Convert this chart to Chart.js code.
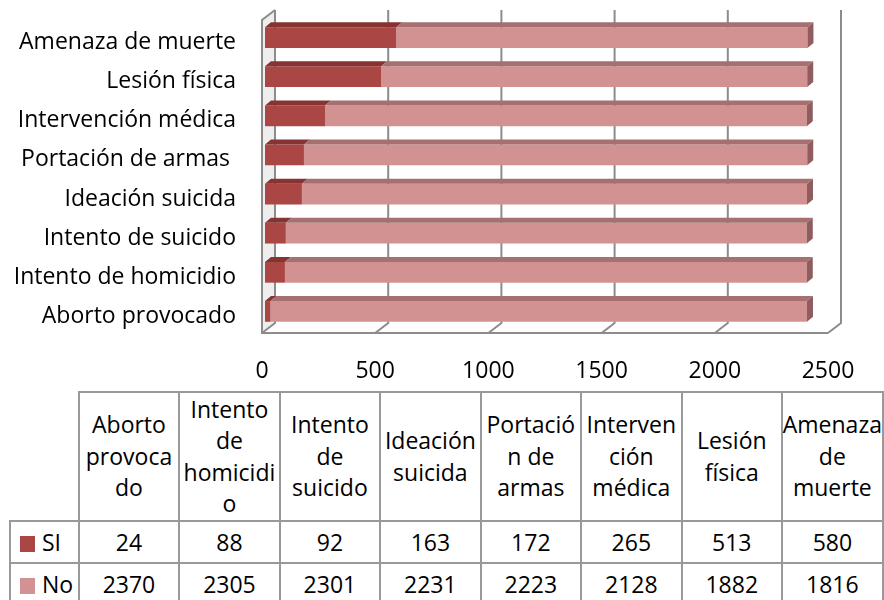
<!DOCTYPE html>
<html>
<head>
<meta charset="utf-8">
<script src="https://cdn.jsdelivr.net/npm/chart.js@4.4.1/dist/chart.umd.min.js"></script>
<style>
  body { margin: 0; background: #fff; font-family: 'Open Sans', sans-serif; }
  #wrap { position: relative; width: 884px; height: 600px; overflow: hidden; }
  #chart { position: absolute; left: 0; top: 0; }
  #tbl {
    position: absolute; left: 9px; top: 391px;
    border-collapse: collapse; table-layout: fixed;
    font-size: 23px; color: #000;
  }
  #tbl td { border: 2px solid #999; padding: 0; text-align: center; vertical-align: middle; white-space: nowrap; }
  #tbl tr.head td { height: 127px; line-height: 31.5px; }
  #tbl tr.val td { height: 40px; }
  #tbl td.blank { border-top: none; border-left: none; }
  #tbl td.key { text-align: left; padding-left: 9px; }
  .sw { display: inline-block; width: 15px; height: 16px; margin-right: 7px; vertical-align: -1px; }
</style>
</head>
<body>
<div id="wrap">
  <canvas id="chart" width="884" height="390"></canvas>
  <table id="tbl"></table>
</div>
<script>
// categories (bottom to top on the chart, left to right in the table)
const categories = ['Aborto provocado', 'Intento de homicidio', 'Intento de suicido', 'Ideación suicida',
                    'Portación de armas ', 'Intervención médica', 'Lesión física', 'Amenaza de muerte'];
// header text as it wraps in the table cells
const headerLines = [
    ['Aborto', 'provoca', 'do'],
    ['Intento', 'de', 'homicidi', 'o'],
    ['Intento', 'de', 'suicido'],
    ['Ideación', 'suicida'],
    ['Portació', 'n de', 'armas'],
    ['Interven', 'ción', 'médica'],
    ['Lesión', 'física'],
    ['Amenaza', 'de', 'muerte']
];
const seriesNames = ['SI', 'No'];
const siValues = [24, 88, 92, 163, 172, 265, 513, 580];
const noValues = [2370, 2305, 2301, 2231, 2223, 2128, 1882, 1816];
const xTicks = [0, 500, 1000, 1500, 2000, 2500];

const frontColors = ['#AA4643', '#D39292'];
const topColors = ['#863331', '#A67070'];
const sideColor = '#8F5D5D';
const FONT = "'Open Sans', sans-serif";

// depth offsets (px) relative to the bar plane
const FRONT = { x: -3, y: 2 };
const BACK = { x: 10, y: -8 };
const BAR_D = { x: 6, y: 5 };

// walls, floor and gridlines behind the bars
const frame3d = {
    id: 'frame3d',
    beforeDatasetsDraw(chart) {
        const ctx = chart.ctx;
        const a = chart.chartArea;
        const xs = chart.scales.x;
        ctx.save();
        // left wall
        ctx.fillStyle = '#eeeeee';
        ctx.beginPath();
        ctx.moveTo(a.left + FRONT.x, a.bottom + FRONT.y);
        ctx.lineTo(a.left + FRONT.x, a.top + FRONT.y);
        ctx.lineTo(a.left + BACK.x, a.top + BACK.y);
        ctx.lineTo(a.left + BACK.x, a.bottom + BACK.y);
        ctx.closePath();
        ctx.fill();

        ctx.strokeStyle = '#8c8c8c';
        ctx.lineWidth = 2;
        xTicks.forEach(v => {
            const px = xs.getPixelForValue(v);
            ctx.beginPath();
            ctx.moveTo(px + BACK.x, a.top + BACK.y);
            ctx.lineTo(px + BACK.x, a.bottom + BACK.y);
            ctx.lineTo(px + FRONT.x, a.bottom + FRONT.y);
            ctx.stroke();
        });
        // floor front edge + left wall front edge
        ctx.beginPath();
        ctx.moveTo(a.left + BACK.x, a.top + BACK.y);
        ctx.lineTo(a.left + FRONT.x, a.top + FRONT.y);
        ctx.lineTo(a.left + FRONT.x, a.bottom + FRONT.y);
        ctx.lineTo(a.right + FRONT.x, a.bottom + FRONT.y);
        ctx.stroke();
        ctx.restore();
    },
    afterDatasetsDraw(chart) {
        const ctx = chart.ctx;
        const last = chart.data.datasets.length - 1;
        ctx.save();
        chart.data.datasets.forEach((ds, di) => {
            chart.getDatasetMeta(di).data.forEach(bar => {
                const p = bar.getProps(['x', 'y', 'base', 'height'], true);
                const x0 = Math.min(p.base, p.x), x1 = Math.max(p.base, p.x);
                const t = p.y - p.height / 2, b = p.y + p.height / 2;
                ctx.fillStyle = topColors[di];
                ctx.beginPath();
                ctx.moveTo(x0, t);
                ctx.lineTo(x0 + BAR_D.x, t - BAR_D.y);
                ctx.lineTo(x1 + BAR_D.x, t - BAR_D.y);
                ctx.lineTo(x1, t);
                ctx.closePath();
                ctx.fill();
                if (di === last) {
                    ctx.fillStyle = sideColor;
                    ctx.beginPath();
                    ctx.moveTo(x1, t);
                    ctx.lineTo(x1 + BAR_D.x, t - BAR_D.y);
                    ctx.lineTo(x1 + BAR_D.x, b - BAR_D.y);
                    ctx.lineTo(x1, b);
                    ctx.closePath();
                    ctx.fill();
                }
            });
        });
        ctx.restore();
    }
};

new Chart(document.getElementById('chart'), {
    type: 'bar',
    data: {
        labels: categories,
        datasets: [
            { label: seriesNames[0], data: siValues, backgroundColor: frontColors[0] },
            { label: seriesNames[1], data: noValues, backgroundColor: frontColors[1] }
        ]
    },
    options: {
        indexAxis: 'y',
        responsive: false,
        animation: false,
        devicePixelRatio: 1,
        layout: { padding: { top: 18, right: 53, left: 0, bottom: 0 } },
        datasets: { bar: { barPercentage: 0.53, categoryPercentage: 1, borderWidth: 0 } },
        plugins: { legend: { display: false }, tooltip: { enabled: false } },
        scales: {
            x: {
                stacked: true,
                min: 0, max: 2500,
                afterBuildTicks: s => { s.ticks = xTicks.map(v => ({ value: v })); },
                grid: { display: false, drawTicks: false },
                border: { display: false },
                ticks: {
                    color: '#000', font: { family: FONT, size: 23 }, padding: 27, labelOffset: -3, maxRotation: 0,
                    callback: v => String(v)
                },
                afterFit: s => { s.height = 59; s.paddingLeft = 0; s.paddingRight = 0; }
            },
            y: {
                stacked: true,
                reverse: true,
                grid: { display: false, drawTicks: false },
                border: { display: false },
                ticks: { color: '#000', font: { family: FONT, size: 23 }, padding: 29, labelOffset: 5 },
                afterFit: s => { s.width = 265; s.paddingTop = 0; s.paddingBottom = 0; }
            }
        }
    },
    plugins: [frame3d]
});

// data table under the chart
const tbl = document.getElementById('tbl');
const colWidths = [69, 100, 101, 100, 101, 100, 101, 100, 101];
const cg = document.createElement('colgroup');
colWidths.forEach(w => {
    const c = document.createElement('col');
    c.style.width = w + 'px';
    cg.appendChild(c);
});
tbl.appendChild(cg);

const head = tbl.insertRow();
head.className = 'head';
head.insertCell().className = 'blank';
headerLines.forEach(lines => {
    const td = head.insertCell();
    td.innerHTML = lines.join('<br>');
});
[siValues, noValues].forEach((vals, i) => {
    const tr = tbl.insertRow();
    tr.className = 'val';
    const key = tr.insertCell();
    key.className = 'key';
    key.innerHTML = '<span class="sw" style="background:' + frontColors[i] + '"></span>' + seriesNames[i];
    vals.forEach(v => { tr.insertCell().textContent = v; });
});
</script>
</body>
</html>
